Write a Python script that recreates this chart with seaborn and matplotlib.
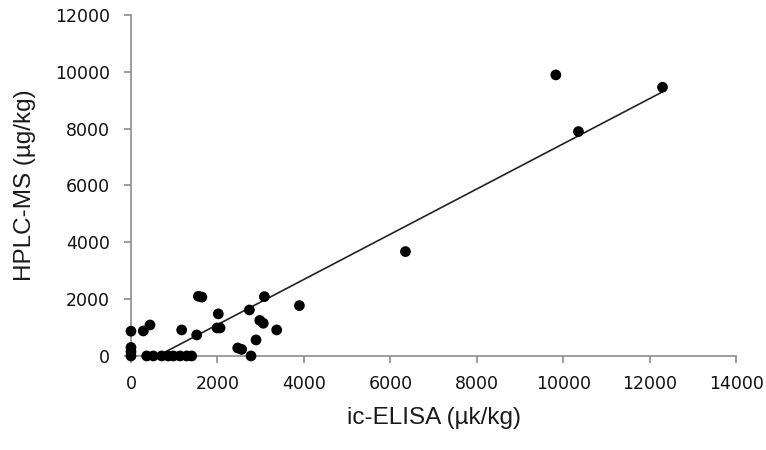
import numpy as np
import pandas as pd
import matplotlib
matplotlib.use("Agg")
import matplotlib.pyplot as plt
import seaborn as sns

# ic-ELISA vs HPLC-MS results (µg/kg)
elisa = [0, 0, 0, 0, 285, 440,
         363, 517, 710, 863, 980, 1134, 1289, 1404,
         1173, 1520, 1560, 1640, 2020, 1990, 2060,
         2470, 2560, 2739, 2777, 2893, 2980, 3060, 3086, 3371, 3896,
         6350, 9829, 10352, 12297]
hplc = [870, 300, 150, 0, 880, 1090,
        0, 0, 0, 0, 0, 0, 0, 0,
        915, 739, 2100, 2070, 1480, 985, 985,
        280, 230, 1618, 0, 563, 1250, 1150, 2087, 915, 1771,
        3671, 9887, 7893, 9453]

x_ticks = [0, 2000, 4000, 6000, 8000, 10000, 12000, 14000]
y_ticks = [0, 2000, 4000, 6000, 8000, 10000, 12000]

df = pd.DataFrame({"elisa": elisa, "hplc": hplc})

sns.set_style("white")
plt.rcParams["font.family"] = ["DejaVu Sans"]

fig = plt.figure(figsize=(7.66, 4.5), dpi=100)
ax = fig.add_axes([0.171, 0.209, 0.790, 0.758])

sns.regplot(data=df, x="elisa", y="hplc", ax=ax, ci=None, truncate=True,
            scatter_kws=dict(s=60, color="black", edgecolor="none",
                             alpha=1.0, zorder=3, clip_on=False),
            line_kws=dict(color="#222222", lw=1.2, zorder=2))

ax.set_xlim(0, 14000)
ax.set_ylim(0, 12000)
ax.set_xticks(x_ticks)
ax.set_yticks(y_ticks)
ax.set_xticklabels([str(t) for t in x_ticks], fontsize=12.5)
ax.set_yticklabels([str(t) for t in y_ticks], fontsize=12.5)

for side in ("top", "right"):
    ax.spines[side].set_visible(False)
for side in ("left", "bottom"):
    ax.spines[side].set_color("#8c8c8c")
    ax.spines[side].set_linewidth(1.2)
ax.tick_params(axis="both", direction="out", length=5, width=1.2,
               color="#8c8c8c", labelcolor="#111111")
ax.tick_params(axis="y", pad=10, left=True)
ax.tick_params(axis="x", pad=9, bottom=True)

label_font = dict(family="Liberation Sans", fontsize=17.5, color="#1a1a1a")
ax.set_xlabel("ic-ELISA (µk/kg)", labelpad=10, **label_font)
ax.set_ylabel("HPLC-MS (µg/kg)", labelpad=14, **label_font)

fig.savefig("out.png", dpi=100, facecolor="white")
